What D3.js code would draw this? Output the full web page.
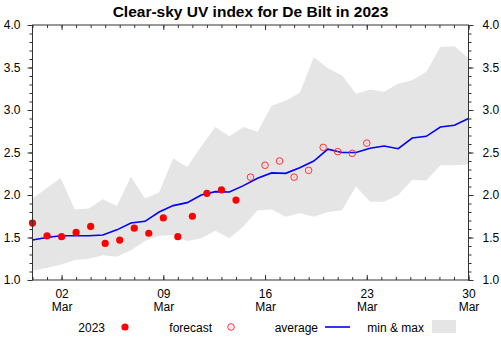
<!DOCTYPE html>
<html>
<head>
<meta charset="utf-8">
<script src="https://cdn.jsdelivr.net/npm/d3@7"></script>
<style>
  body { margin: 0; background: #fff; }
  text { font-family: "Liberation Sans", Arial, sans-serif; fill: #000; }
</style>
</head>
<body>
<div id="chart"></div>
<script>
// Measured daily UV index, 28 Feb .. 14 Mar
const observed = [1.67, 1.52, 1.51, 1.56, 1.63, 1.43, 1.47, 1.61, 1.55, 1.73, 1.51, 1.75, 2.02, 2.06, 1.94];
// Forecast, 15 Mar .. 23 Mar
const forecast = [2.21, 2.35, 2.40, 2.21, 2.29, 2.56, 2.51, 2.49, 2.61];
// Climatology (32 samples spread over the axis span)
const average = [1.47, 1.50, 1.52, 1.52, 1.52, 1.53, 1.59, 1.67, 1.69, 1.80, 1.875, 1.91, 2.00, 2.04, 2.035, 2.11,
                 2.196, 2.26, 2.255, 2.32, 2.40, 2.54, 2.50, 2.50, 2.55, 2.576, 2.545, 2.67, 2.69, 2.80, 2.82, 2.90];
const maxUV = [1.96, 2.08, 2.20, 1.83, 1.84, 1.95, 1.87, 2.215, 1.96, 2.03, 2.43, 2.33, 2.57, 2.80, 2.69, 2.80,
               2.745, 3.05, 3.11, 3.20, 3.62, 3.49, 3.41, 3.19, 3.24, 3.215, 3.31, 3.35, 3.45, 3.74, 3.75, 3.61];
const minUV = [1.11, 1.14, 1.18, 1.235, 1.25, 1.29, 1.275, 1.35, 1.46, 1.52, 1.53, 1.46, 1.49, 1.58, 1.49, 1.63,
               1.82, 1.83, 1.745, 1.785, 1.745, 1.80, 1.82, 2.10, 1.92, 1.92, 2.00, 2.18, 2.17, 2.35, 2.35, 2.36];

const startDate = new Date(Date.UTC(2023, 1, 28));
const forecastStart = new Date(Date.UTC(2023, 2, 15));
const endDate = new Date(Date.UTC(2023, 2, 30));
const xMajorTicks = [2, 9, 16, 23, 30].map(d => new Date(Date.UTC(2023, 2, d)));
const yMajorTicks = [1.0, 1.5, 2.0, 2.5, 3.0, 3.5, 4.0];
const legendItems = ["2023", "forecast", "average", "min & max"];

const width = 501;
const height = 337;
const plotLeft = 32.5, plotRight = 468.5, plotTop = 25, plotBottom = 280;

const svg = d3.select("#chart")
  .append("svg")
  .attr("width", width)
  .attr("height", height);

// Scales
const x = d3.scaleUtc()
  .domain([startDate, endDate])
  .range([plotLeft, plotRight]);
const y = d3.scaleLinear()
  .domain([1, 4])
  .range([plotBottom, plotTop]);
const climX = d3.scaleLinear()
  .domain([0, average.length - 1])
  .range(x.range());

// Title
svg.append("text")
  .attr("x", 250.5)
  .attr("y", 16.5)
  .attr("text-anchor", "middle")
  .style("font-size", "15.5px")
  .style("font-weight", "bold")
  .text("Clear-sky UV index for De Bilt in 2023");

// min & max band
const band = d3.area()
  .x((d, i) => climX(i))
  .y0((d, i) => y(minUV[i]))
  .y1(d => y(d));
svg.append("path")
  .datum(maxUV)
  .attr("d", band)
  .attr("fill", "#e5e5e5");

// average line
const line = d3.line()
  .x((d, i) => climX(i))
  .y(d => y(d));
svg.append("path")
  .datum(average)
  .attr("d", line)
  .attr("fill", "none")
  .attr("stroke", "#0000ff")
  .attr("stroke-width", 1.6);

// observed points
svg.append("g")
  .selectAll("circle")
  .data(observed)
  .enter().append("circle")
  .attr("cx", (d, i) => x(d3.utcDay.offset(startDate, i)))
  .attr("cy", d => y(d))
  .attr("r", 3.6)
  .attr("fill", "#ff0000");

// forecast points
const fc = svg.append("g")
  .selectAll("g")
  .data(forecast)
  .enter().append("g")
  .attr("transform", (d, i) => `translate(${x(d3.utcDay.offset(forecastStart, i))},${y(d)})`);
fc.append("circle")
  .attr("r", 3.3)
  .attr("fill", "none")
  .attr("stroke", "#ff3030")
  .attr("stroke-width", 1);
fc.append("circle")
  .attr("r", 0.6)
  .attr("fill", "#ff8080");

// Axes
function styleAxis(g) {
  g.select(".domain").remove();
  g.selectAll("line").attr("stroke", "#333");
  g.selectAll("text").style("font-size", "12px").attr("fill", "#000");
}

const minorDays = d3.utcDay.range(startDate, d3.utcDay.offset(endDate, 1));
const minorY = d3.range(10, 41).map(v => v / 10);

svg.append("g")
  .attr("transform", `translate(0,${plotBottom})`)
  .call(d3.axisBottom(x).tickValues(minorDays).tickSize(-3).tickFormat(""))
  .call(styleAxis);
const xb = svg.append("g")
  .attr("transform", `translate(0,${plotBottom})`)
  .call(d3.axisBottom(x).tickValues(xMajorTicks).tickSize(-5).tickFormat(""))
  .call(styleAxis);
// two-line date labels: day number above month
xb.selectAll(".tick").each(function(d) {
  const g = d3.select(this);
  g.append("text")
    .attr("y", 17.5)
    .attr("text-anchor", "middle")
    .style("font-size", "12px")
    .text(d3.utcFormat("%d")(d));
  g.append("text")
    .attr("y", 30.5)
    .attr("text-anchor", "middle")
    .style("font-size", "12px")
    .text(d3.utcFormat("%b")(d));
});

svg.append("g")
  .attr("transform", `translate(0,${plotTop})`)
  .call(d3.axisTop(x).tickValues(minorDays).tickSize(-3).tickFormat(""))
  .call(styleAxis);
svg.append("g")
  .attr("transform", `translate(0,${plotTop})`)
  .call(d3.axisTop(x).tickValues(xMajorTicks).tickSize(-5).tickFormat(""))
  .call(styleAxis);

svg.append("g")
  .attr("transform", `translate(${plotLeft},0)`)
  .call(d3.axisLeft(y).tickValues(minorY).tickSize(3).tickFormat(""))
  .call(styleAxis);
svg.append("g")
  .attr("transform", `translate(${plotLeft},0)`)
  .call(d3.axisLeft(y).tickValues(yMajorTicks).tickSize(5).tickPadding(7).tickFormat(d3.format(".1f")))
  .call(styleAxis);
svg.append("g")
  .attr("transform", `translate(${plotRight},0)`)
  .call(d3.axisRight(y).tickValues(minorY).tickSize(3).tickFormat(""))
  .call(styleAxis);
svg.append("g")
  .attr("transform", `translate(${plotRight},0)`)
  .call(d3.axisRight(y).tickValues(yMajorTicks).tickSize(5).tickPadding(9).tickFormat(d3.format(".1f")))
  .call(styleAxis);

// Frame
svg.append("rect")
  .attr("x", plotLeft)
  .attr("y", plotTop)
  .attr("width", plotRight - plotLeft)
  .attr("height", plotBottom - plotTop)
  .attr("fill", "none")
  .attr("stroke", "#333")
  .attr("stroke-width", 1);

// Legend
const legend = svg.append("g").attr("transform", "translate(0,327)");
const labelPos = [105, 212, 318, 424];
legendItems.forEach((name, i) => {
  legend.append("text")
    .attr("x", labelPos[i])
    .attr("y", 4.5)
    .attr("text-anchor", "end")
    .style("font-size", "12px")
    .text(name);
});
legend.append("circle").attr("cx", 125).attr("cy", 0).attr("r", 3.6).attr("fill", "#ff0000");
legend.append("circle").attr("cx", 231).attr("cy", 0).attr("r", 3.3)
  .attr("fill", "none").attr("stroke", "#ff3030").attr("stroke-width", 1);
legend.append("circle").attr("cx", 231).attr("cy", 0).attr("r", 0.6).attr("fill", "#ff8080");
legend.append("line").attr("x1", 325).attr("x2", 350).attr("y1", 0).attr("y2", 0)
  .attr("stroke", "#0000ff").attr("stroke-width", 1.6);
legend.append("rect").attr("x", 432).attr("y", -7).attr("width", 24).attr("height", 13)
  .attr("fill", "#e5e5e5");
</script>
</body>
</html>
